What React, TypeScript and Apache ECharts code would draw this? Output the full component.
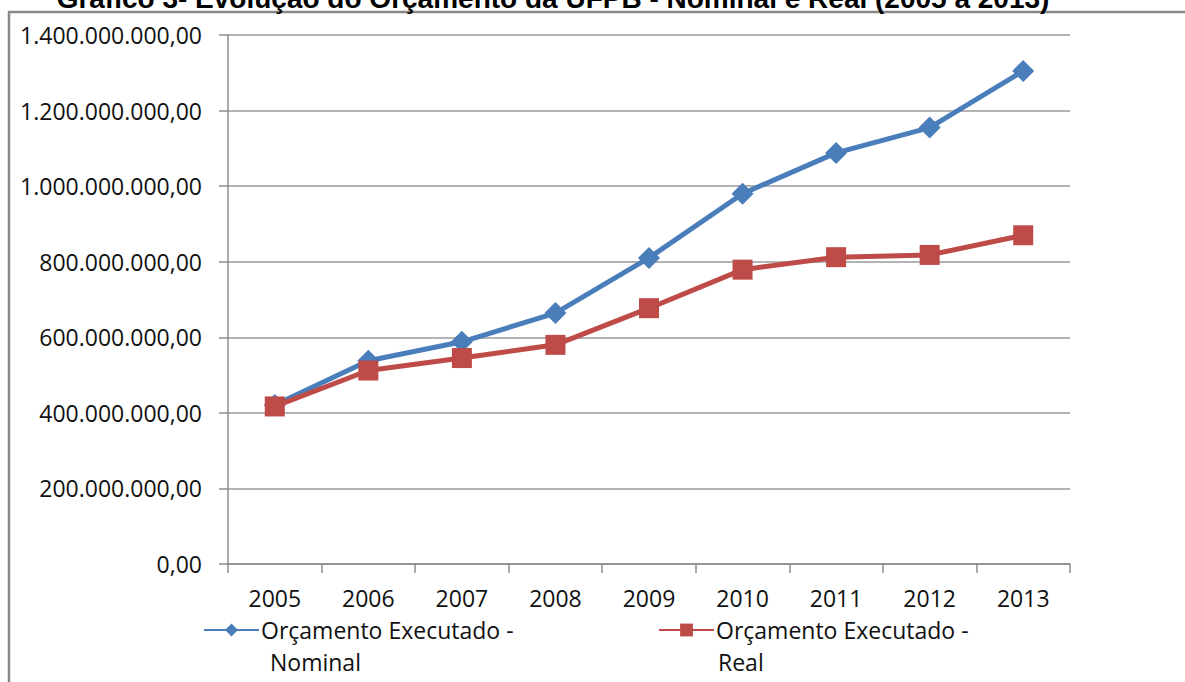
import React, { useEffect, useRef } from "react";
import * as echarts from "echarts";

const years = ["2005", "2006", "2007", "2008", "2009", "2010", "2011", "2012", "2013"];
const nominal = [421e6, 538e6, 588e6, 664e6, 810e6, 980e6, 1088e6, 1155e6, 1305e6];
const real = [417e6, 512e6, 545e6, 580e6, 677e6, 779e6, 812e6, 818e6, 870e6];
const seriesNames = ["Orçamento Executado - Nominal", "Orçamento Executado - Real"];
const legendFirstLine = "Orçamento Executado -";
const legendSecondLines = ["Nominal", "Real"];
const titleText = "Gráfico 3- Evolução do Orçamento da UFPB - Nominal e Real (2005 a 2013)";

const FONT = "'Open Sans', sans-serif";

function fmt(v: number): string {
  const s = Math.round(v).toString();
  const withDots = s.replace(/\B(?=(\d{3})+(?!\d))/g, ".");
  return withDots + ",00";
}

export default function App() {
  const ref = useRef<HTMLDivElement>(null);
  useEffect(() => {
    if (!ref.current) return;
    const chart = echarts.init(ref.current, null, { renderer: "svg" });
    chart.setOption({
      animation: false,
      backgroundColor: "#ffffff",
      textStyle: { fontFamily: FONT },
      grid: { left: 228, width: 842, top: 35, height: 529 },
      xAxis: {
        type: "category",
        data: years,
        boundaryGap: true,
        axisLine: { lineStyle: { color: "#8c8c8c", width: 1.5 } },
        axisTick: { show: true, length: 9, lineStyle: { color: "#8c8c8c", width: 1.5 } },
        axisLabel: { color: "#111", fontSize: 23, fontFamily: FONT, margin: 22 },
        splitLine: { show: false },
      },
      yAxis: {
        type: "value",
        min: 0,
        max: 1400000000,
        interval: 200000000,
        axisLine: { show: true, lineStyle: { color: "#8c8c8c", width: 1.5 } },
        axisTick: { show: true, length: 9, lineStyle: { color: "#8c8c8c", width: 1.5 } },
        axisLabel: { color: "#111", fontSize: 23, fontFamily: FONT, margin: 26, formatter: (v: number) => fmt(v) },
        splitLine: { show: true, lineStyle: { color: "#9a9a9a", width: 1.5 } },
      },
      legend: [
        {
          data: [seriesNames[0]],
          left: 203,
          top: 615,
          padding: 0,
          itemWidth: 55,
          itemHeight: 16,
          itemGap: 0,
          textStyle: { fontSize: 23, color: "#111", fontFamily: FONT, lineHeight: 30, padding: [0, 0, 0, -3] },
          formatter: () => legendFirstLine,
        },
        {
          data: [seriesNames[1]],
          left: 658,
          top: 615,
          padding: 0,
          itemWidth: 55,
          itemHeight: 16,
          itemGap: 0,
          textStyle: { fontSize: 23, color: "#111", fontFamily: FONT, lineHeight: 30, padding: [0, 0, 0, -3] },
          formatter: () => legendFirstLine,
        },
      ],
      series: [
        {
          name: seriesNames[0],
          type: "line",
          data: nominal,
          symbol: "diamond",
          symbolSize: 22,
          color: "#4a7ebb",
          lineStyle: { color: "#4a7ebb", width: 5 },
          itemStyle: { color: "#4a7ebb" },
          z: 2,
        },
        {
          name: seriesNames[1],
          type: "line",
          data: real,
          symbol: "rect",
          symbolSize: 20,
          color: "#be4b48",
          lineStyle: { color: "#be4b48", width: 5 },
          itemStyle: { color: "#be4b48" },
          z: 3,
        },
      ],
      graphic: [
        {
          type: "rect",
          shape: { x: 9, y: 12, width: 1250, height: 800 },
          style: { fill: "none", stroke: "#888888", lineWidth: 2.5 },
          silent: true,
        },
        {
          type: "text",
          x: 553,
          y: 12,
          style: {
            text: titleText,
            font: "bold 28px 'Liberation Sans', Arial, sans-serif",
            fill: "#000",
            align: "center",
            verticalAlign: "bottom",
          },
        },
        {
          type: "text",
          x: 270,
          y: 662,
          style: {
            text: legendSecondLines[0],
            font: "23px 'Open Sans', sans-serif",
            fill: "#111",
            align: "left",
            verticalAlign: "middle",
          },
        },
        {
          type: "text",
          x: 718,
          y: 662,
          style: {
            text: legendSecondLines[1],
            font: "23px 'Open Sans', sans-serif",
            fill: "#111",
            align: "left",
            verticalAlign: "middle",
          },
        },
      ],
    });
    return () => chart.dispose();
  }, []);
  return (
    <div
      ref={ref}
      style={{ position: "fixed", left: 0, top: 0, width: 1185, height: 682 }}
    />
  );
}
